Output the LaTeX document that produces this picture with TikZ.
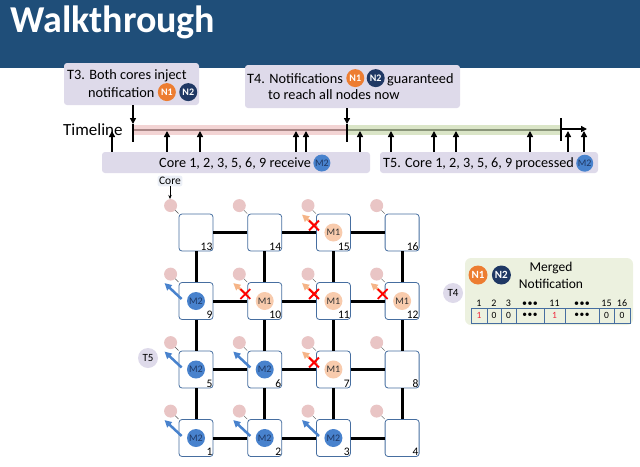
\documentclass[tikz,border=0pt]{standalone}
\usepackage{fontspec}
\setmainfont{Carlito}
\usepackage{tikz}
\usetikzlibrary{shapes,fit,calc,positioning,arrows.meta}

\definecolor{titleblue}{RGB}{31,78,121}
\definecolor{notelilac}{RGB}{222,218,234}
\definecolor{panelgreen}{RGB}{236,241,223}
\definecolor{corepink}{RGB}{233,197,197}
\definecolor{routerblue}{RGB}{70,110,160}
\definecolor{msgblue}{RGB}{72,130,205}
\definecolor{msgpeach}{RGB}{248,203,173}
\definecolor{arroworange}{RGB}{245,180,135}
\definecolor{notiforange}{RGB}{237,125,49}
\definecolor{notifnavy}{RGB}{31,56,100}
\definecolor{bandpink}{RGB}{243,212,212}
\definecolor{linepink}{RGB}{170,135,135}
\definecolor{bandgreen}{RGB}{218,229,199}
\definecolor{linegreen}{RGB}{138,150,122}
\definecolor{labelgrey}{RGB}{235,239,246}
\definecolor{bitred}{RGB}{240,40,60}

\begin{document}
\begin{tikzpicture}[x=1pt,y=-1pt]
    \newcommand{\pitchx}[0]{68.7}
    \newcommand{\pitchy}[0]{68.5}
    \newcommand{\bitdots}[0]{\textbullet\kern0.5pt\textbullet\kern0.5pt\textbullet}

    \tikzstyle{dedge}=[line width=1.6pt,-{Triangle[length=6pt,width=6pt]},draw=black]
    \tikzstyle{note}=[rectangle, fill=notelilac, rounded corners=3pt, inner sep=0pt]
    \tikzstyle{notetext}=[anchor=base west, inner sep=0pt, font=\fontsize{14.3}{16}\selectfont]
    \tikzstyle{badge}=[circle, inner sep=0pt, minimum size=18pt, text=white,
      font=\fontsize{10}{10}\selectfont\bfseries]
    \tikzstyle{nonebadge}=[badge, fill=notiforange]
    \tikzstyle{ntwobadge}=[badge, fill=notifnavy]
    \tikzstyle{msgtwo}=[circle, inner sep=0pt, minimum size=18pt, fill=msgblue,
      text=notifnavy, font=\fontsize{10}{10}\selectfont]
    \tikzstyle{msgone}=[circle, inner sep=0pt, minimum size=18pt, fill=msgpeach,
      text=black!80, font=\fontsize{10}{10}\selectfont]
    \tikzstyle{router}=[
      rectangle,
      rounded corners=3pt,
      draw=routerblue,
      line width=0.8pt,
      fill=white,
      minimum width=34pt,
      minimum height=37pt,
      inner sep=0pt,
    ]
    \tikzstyle{routernum}=[anchor=south east, inner sep=0.8pt, font=\fontsize{11.5}{11.5}\selectfont]
    \tikzstyle{core}=[circle, fill=corepink, minimum size=13pt, inner sep=0pt]
    \tikzstyle{corelink}=[draw=black!70, line width=0.4pt]
    \tikzstyle{link}=[line width=3pt, draw=black]
    \tikzstyle{bcast}=[line width=2.5pt, draw=msgblue, -{Triangle[length=7pt,width=7pt]}]
    \tikzstyle{blocked}=[line width=2.5pt, draw=arroworange, -{Triangle[length=7pt,width=7pt]}]
    \tikzstyle{stopmark}=[cross out, draw=red, line width=1.8pt, minimum size=8pt, inner sep=0pt]
    \tikzstyle{tag}=[circle, fill=notelilac, inner sep=0pt, minimum size=20pt,
      font=\fontsize{11}{11}\selectfont]
    \tikzstyle{bitcell}=[rectangle, draw=routerblue, line width=0.6pt, minimum height=15pt,
      inner sep=0pt, font=\fontsize{9.5}{9.5}\selectfont]
    \tikzstyle{bitlabel}=[anchor=south, inner sep=1pt, font=\fontsize{10}{10}\selectfont]

    \useasboundingbox (0,0) rectangle (640,466);

    % title bar
    \fill[titleblue] (0,0) rectangle (640,68);
    \node[anchor=base west, inner sep=0pt, text=white, font=\fontsize{38}{38}\selectfont\bfseries]
      (title) at (10,32) {Walkthrough};

    % event notes
    \node[note, minimum width=135pt, minimum height=42pt] (t3box) at (131.5,84) {};
    \node[notetext] (t3a) at (67,79) {T3. Both cores inject};
    \node[notetext] (t3b) at (88,97) {notification};
    \node[nonebadge, right=3pt of t3b] (t3n1) {N1};
    \node[ntwobadge, right=3pt of t3n1] (t3n2) {N2};

    \node[note, minimum width=215pt, minimum height=43pt] (t4box) at (352.5,86.5) {};
    \node[notetext] (t4a) at (247,83) {T4. Notifications};
    \node[nonebadge, right=3pt of t4a] (t4n1) {N1};
    \node[ntwobadge, right=2pt of t4n1] (t4n2) {N2};
    \node[notetext] (t4b) at (387,83) {guaranteed};
    \node[notetext] (t4c) at (268,99) {to reach all nodes now};

    \node[note, minimum width=268pt, minimum height=21pt] (recvbox) at (236,162.5) {};
    \node[notetext, font=\fontsize{14.2}{16}\selectfont] (recvtext) at (159,167) {Core 1, 2, 3, 5, 6, 9 receive};
    \node[msgtwo, minimum size=17pt, right=2pt of recvtext] (recvmsg) {M2};

    \node[note, minimum width=218pt, minimum height=21pt] (donebox) at (489,162.5) {};
    \node[notetext, font=\fontsize{14.2}{16}\selectfont] (donetext) at (383,167) {T5. Core 1, 2, 3, 5, 6, 9 processed};
    \node[msgtwo, minimum size=17pt, right=2pt of donetext] (donemsg) {M2};

    % timeline
    \node[anchor=base west, inner sep=0pt, font=\fontsize{17}{17}\selectfont] (tlabel) at (63,135) {Timeline};
    \fill[bandpink] (133,125) rectangle (347,135);
    \fill[bandgreen] (347,125) rectangle (561,135);
    \draw[linepink, line width=2pt] (133,130) -- (347,130);
    \draw[linegreen, line width=2pt] (347,130) -- (561,130);

    \coordinate (tlstart) at (133,124);
    \coordinate (tlmid) at (347,124);
    \coordinate (tlend) at (561,129);
    \coordinate (tlhead) at (587,129);

    \draw[dedge] (t3box.south -| tlstart) -- (tlstart);
    \draw[line width=1.6pt] (tlstart) -- ++(0,18);
    \draw[dedge] (t4box.south -| tlmid) -- (tlmid);
    \draw[line width=1.6pt] (tlmid) -- ++(0,18);
    \draw[line width=1.6pt] ([yshift=11pt]tlend) -- ([yshift=-12pt]tlend);
    \draw[dedge] (tlend) -- (tlhead);

    \foreach \x [count=\i] in {112,167,200,296,306,360} {
      \coordinate (rv\i) at (\x,131);
      \draw[dedge] (rv\i |- recvbox.north) -- (rv\i);
    }
    \foreach \x [count=\i] in {391,434,456,530,568,584} {
      \coordinate (pr\i) at (\x,131);
      \draw[dedge] (pr\i |- donebox.north) -- (pr\i);
    }

    % mesh of routers
    \foreach \row in {0,...,3} {
      \foreach \col in {0,...,3} {
        \pgfmathtruncatemacro{\n}{4*\row+\col+1}
        \node[router] (r\n) at (196+\col*\pitchx, 438-\row*\pitchy) {};
        \node[routernum] (num\n) at (r\n.south east) {\n};
        \node[core] (c\n) at ([shift={(-8,-8)}]r\n.north west) {};
        \draw[corelink] (c\n) -- (r\n.north west);
      }
    }

    \foreach \a/\b in {1/2,2/3,3/4,5/6,6/7,7/8,9/10,10/11,11/12,13/14,14/15,15/16,
                       1/5,5/9,9/13,2/6,6/10,10/14,3/7,7/11,11/15,4/8,8/12,12/16}
      \draw[link] (r\a) -- (r\b);

    \node[rectangle, fill=labelgrey, rounded corners=2pt, inner sep=1.5pt,
      font=\fontsize{11.5}{12}\selectfont] (corelabel) at (170,181) {Core};
    \draw[-{Stealth[length=4pt,width=3.5pt]}, line width=0.6pt]
      (corelabel.south) -- (corelabel.south |- c13.north);

    % M2 already delivered
    \foreach \n in {1,2,3,5,6,9} {
      \node[msgtwo] (m\n) at (r\n) {M2};
      \draw[bcast] ([shift={(3,-2)}]r\n.west) -- ([shift={(-6,9)}]c\n.center);
    }
    % M1 dropped
    \foreach \n in {7,10,11,12,15} {
      \node[msgone] (m\n) at (r\n) {M1};
      \draw[blocked] ([shift={(1,-5)}]r\n.west) -- ([shift={(-6,9)}]c\n.center);
      \node[stopmark] (x\n) at ([shift={(-2,-7)}]r\n.west) {};
    }

    \node[tag] (t5tag) at (148,358) {T5};

    % merged notification
    \node[rectangle, fill=panelgreen, rounded corners=6pt, minimum width=168pt,
      minimum height=67pt] (mergepanel) at (549,291.5) {};
    \node[tag] (t4tag) at (453,293) {T4};
    \node[nonebadge, minimum size=19pt, font=\fontsize{11}{11}\selectfont\bfseries] (mn1) at (478,275) {N1};
    \node[ntwobadge, minimum size=19pt, font=\fontsize{11}{11}\selectfont\bfseries, right=4pt of mn1] (mn2) {N2};
    \node[align=center, inner sep=0pt, font=\fontsize{13.5}{17}\selectfont] (mergetitle) at (551,275) {Merged\\Notification};

    \foreach \l/\r/\v/\h/\c [count=\i] in {471/487/1/1/bitred, 487/501/0/2/black, 501/516/0/3/black,
        516/544/\bitdots/\bitdots/black, 544/565/1/11/bitred, 565/599/\bitdots/\bitdots/black,
        599/614/0/15/black, 614/630/0/16/black} {
      \pgfmathsetmacro{\w}{\r-\l}
      \pgfmathsetmacro{\cx}{(\l+\r)/2}
      \node[bitcell, minimum width=\w pt, text=\c] (bit\i) at (\cx,315.5) {\v};
      \node[bitlabel] (bitlbl\i) at (bit\i.north) {\h};
    }
\end{tikzpicture}
\end{document}
